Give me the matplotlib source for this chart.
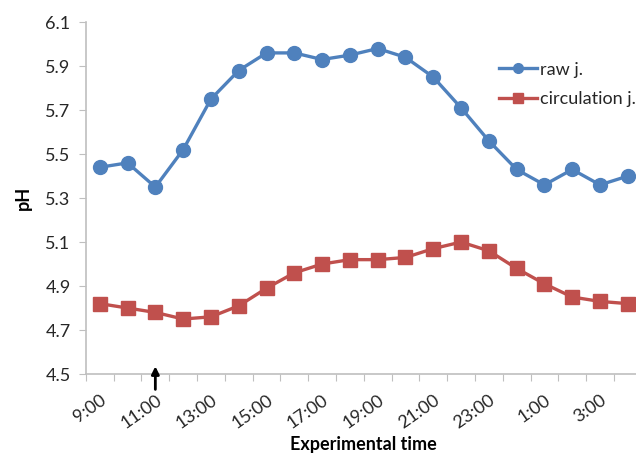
import matplotlib
matplotlib.use("Agg")
import matplotlib.pyplot as plt
from matplotlib.lines import Line2D

plt.rcParams['font.family'] = ['Lato', 'DejaVu Sans']

times = ["9:00", "10:00", "11:00", "12:00", "13:00", "14:00", "15:00", "16:00",
         "17:00", "18:00", "19:00", "20:00", "21:00", "22:00", "23:00", "0:00",
         "1:00", "2:00", "3:00", "4:00"]
raw_j = [5.44, 5.46, 5.35, 5.52, 5.75, 5.88, 5.96, 5.96, 5.93, 5.95,
         5.98, 5.94, 5.85, 5.71, 5.56, 5.43, 5.36, 5.43, 5.36, 5.40]
circ_j = [4.82, 4.80, 4.78, 4.75, 4.76, 4.81, 4.89, 4.96, 5.00, 5.02,
          5.02, 5.03, 5.07, 5.10, 5.06, 4.98, 4.91, 4.85, 4.83, 4.82]
yticks = [4.5, 4.7, 4.9, 5.1, 5.3, 5.5, 5.7, 5.9, 6.1]

blue = "#4F81BD"
red = "#C0504D"
axcol = "#BFBFBF"
txtcol = "#262626"

fig = plt.figure(figsize=(6.36, 4.57), dpi=100)
ax = fig.add_axes([0.135, 0.1816, 0.874, 0.770])
x = list(range(len(times)))
ax.plot(x, raw_j, color=blue, lw=2.4, marker='o', ms=10, label="raw j.")
ax.plot(x, circ_j, color=red, lw=2.4, marker='s', ms=9.5, label="circulation j.")

ax.set_xlim(-0.5, len(times) - 0.5)
ax.set_ylim(4.5, 6.1)
ax.set_yticks(yticks)
ax.set_yticklabels([f"{v:.1f}" for v in yticks], fontsize=13, color=txtcol)

ax.set_xticks([i + 0.5 for i in range(-1, len(times))], minor=False)
ax.set_xticklabels([])
ax.set_xticks(x[::2], minor=True)
ax.set_xticklabels(times[::2], minor=True, rotation=35, ha='right',
                   rotation_mode='anchor', fontsize=13, color=txtcol)
ax.tick_params(axis='x', which='minor', length=0, pad=13)
ax.tick_params(axis='x', which='major', length=5, color=axcol, direction='out')
ax.tick_params(axis='y', length=5, color=axcol, direction='out', pad=6)

for s in ['top', 'right']:
    ax.spines[s].set_visible(False)
for s in ['left', 'bottom']:
    ax.spines[s].set_color(axcol)
    ax.spines[s].set_linewidth(1.2)

ax.set_ylabel("pH", fontsize=13, fontweight='bold', labelpad=10)
ax.set_xlabel("Experimental time", fontsize=13, fontweight='bold', labelpad=3)

handles = [Line2D([], [], color=blue, lw=2.4, marker='o', ms=7),
           Line2D([], [], color=red, lw=2.4, marker='s', ms=7)]
leg = fig.legend(handles, ["raw j.", "circulation j."], loc='upper left',
                 bbox_to_anchor=(0.785, 0.865), bbox_transform=fig.transFigure,
                 frameon=False, fontsize=13, handlelength=2.1, handletextpad=0.15,
                 labelspacing=0.75, borderpad=0, borderaxespad=0)
for t in leg.get_texts():
    t.set_color(txtcol)

ax.annotate("", xy=(2, 4.535), xytext=(2, 4.43),
            arrowprops=dict(arrowstyle='-|>', color='black', lw=2,
                            mutation_scale=11, shrinkA=0, shrinkB=0),
            annotation_clip=False)

fig.savefig("out.png", dpi=100)
